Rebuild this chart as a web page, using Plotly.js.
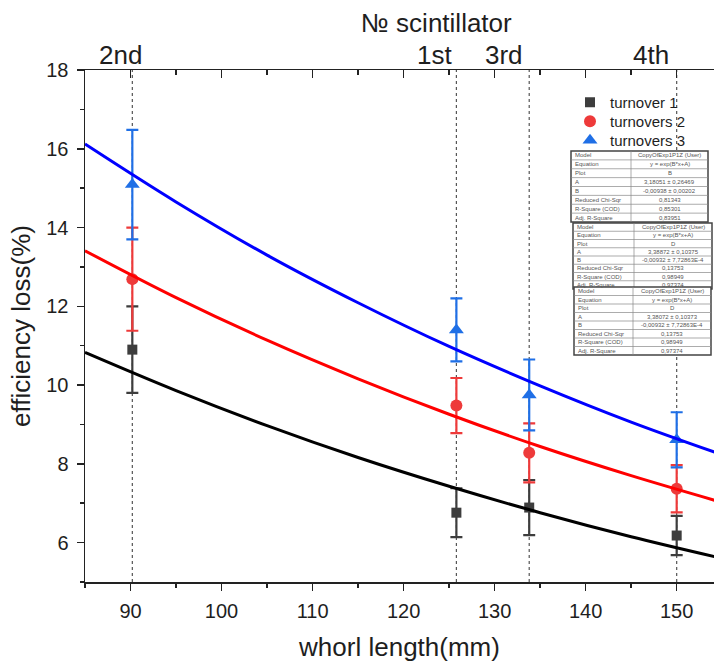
<!DOCTYPE html>
<html>
<head>
<meta charset="utf-8">
<script src="https://cdn.plot.ly/plotly-3.0.1.min.js"></script>
<style>html,body{margin:0;padding:0;background:#fff}#chart{width:714px;height:664px}</style>
</head>
<body>
<div id="chart"></div>
<script>
// ---- data ----
const scintX = [90.2, 125.8, 133.8, 150];
const scintLabels = ['2nd', '1st', '3rd', '4th'];
const pointX = [90.2, 125.8, 133.8, 150];
const turnover1 = [10.9, 6.76, 6.89, 6.18];
const turnover1Err = [1.1, 0.62, 0.7, 0.5];
const turnover2 = [12.69, 9.48, 8.28, 7.37];
const turnover2Err = [1.31, 0.7, 0.75, 0.6];
const turnover3 = [15.09, 11.4, 9.75, 8.61];
const turnover3Err = [1.39, 0.8, 0.9, 0.7];
const fitX = [85, 95, 105, 115, 125, 135, 145, 155];
const fit1 = [10.83, 9.86, 8.97, 8.16, 7.43, 6.76, 6.15, 5.60];
const fit2 = [13.41, 12.22, 11.14, 10.16, 9.26, 8.44, 7.70, 7.02];
const fit3 = [16.12, 14.65, 13.30, 12.09, 10.98, 9.98, 9.06, 8.23];
const seriesNames = ['turnover 1', 'turnovers 2', 'turnovers 3'];

const tableLeft = ['Model', 'Equation', 'Plot', 'A', 'B', 'Reduced Chi-Sqr', 'R-Square (COD)', 'Adj. R-Square'];
const table1Right = ['CopyOfExp1P1Z (User)', 'y = exp(B*x+A)', 'B', '3,18051 ± 0,26469', '-0,00938 ± 0,00202', '0,81343', '0,85301', '0,83951'];
const table2Right = ['CopyOfExp1P1Z (User)', 'y = exp(B*x+A)', 'D', '3,38872 ± 0,10375', '-0,00932 ± 7,72863E-4', '0,13753', '0,98949', '0,97374'];
const table3Right = ['CopyOfExp1P1Z (User)', 'y = exp(B*x+A)', 'D', '3,38072 ± 0,10373', '-0,00932 ± 7,72863E-4', '0,13753', '0,98949', '0,97374'];

// ---- layout geometry ----
const W = 714, H = 664, M = {l: 85, r: 0, t: 70, b: 82};
const pw = W - M.l - M.r, ph = H - M.t - M.b;
const px = x => (x - M.l) / pw;
const py = y => (H - M.b - y) / ph;
const topLabelShift = [-12, -22, -25, -26];
const legendRowTops = [86, 105, 124];

const colBlack = '#3d3d3d', colRed = '#ee3a3a', colBlue = '#1f6fe6';
const font = 'Liberation Sans, Arial, sans-serif';
const ink = '#1e1e1e';

function pts(name, y, err, color, symbol, size, legendId) {
  return {
    x: pointX, y: y, name: name, type: 'scatter', mode: 'markers', legend: legendId,
    marker: {color: color, symbol: symbol, size: size},
    error_y: {type: 'data', array: err, visible: true, color: color, thickness: 2.2, width: 6},
    cliponaxis: false
  };
}
function fit(y, color) {
  return {x: fitX, y: y, type: 'scatter', mode: 'lines', line: {color: color, width: 3, shape: 'spline'}, showlegend: false, hoverinfo: 'skip'};
}

const traces = [
  pts(seriesNames[0], turnover1, turnover1Err, colBlack, 'square', 10, 'legend'),
  pts(seriesNames[1], turnover2, turnover2Err, colRed, 'circle', 12, 'legend2'),
  pts(seriesNames[2], turnover3, turnover3Err, colBlue, 'triangle-up', 13, 'legend3'),
  fit(fit1, '#000000'),
  fit(fit2, '#ff0000'),
  fit(fit3, '#0000ff'),
  {x: [], y: [], xaxis: 'x2', yaxis: 'y', type: 'scatter', showlegend: false}
];

const shapes = scintX.map(x => ({
  type: 'line', xref: 'x', yref: 'paper', x0: x, x1: x, y0: 0, y1: 1,
  line: {color: '#555', width: 1.2, dash: '3px,3px'}, layer: 'below'
}));
const annotations = [{
  text: '№ scintillator', xref: 'paper', yref: 'paper', x: px(436), y: py(23),
  showarrow: false, font: {family: font, size: 26, color: ink}, xanchor: 'center', yanchor: 'middle'
}];
scintX.forEach((x, i) => annotations.push({
  text: scintLabels[i], xref: 'x', yref: 'paper', x: x, y: py(55), xshift: topLabelShift[i],
  showarrow: false, font: {family: font, size: 26, color: ink}, xanchor: 'center', yanchor: 'middle'
}));

function addTable(x0, x1, xd, y0, y1, rightTexts) {
  shapes.push({type: 'rect', xref: 'paper', yref: 'paper', x0: px(x0), x1: px(x1), y0: py(y0), y1: py(y1),
    fillcolor: '#fff', line: {color: '#444', width: 1.5}, layer: 'above'});
  const n = tableLeft.length, rh = (y1 - y0) / n;
  for (let i = 1; i < n; i++) {
    shapes.push({type: 'line', xref: 'paper', yref: 'paper', x0: px(x0), x1: px(x1), y0: py(y0 + i * rh), y1: py(y0 + i * rh),
      line: {color: '#888', width: 0.7}, layer: 'above'});
  }
  shapes.push({type: 'line', xref: 'paper', yref: 'paper', x0: px(xd), x1: px(xd), y0: py(y0), y1: py(y1),
    line: {color: '#888', width: 0.7}, layer: 'above'});
  for (let i = 0; i < n; i++) {
    const yc = py(y0 + (i + 0.5) * rh);
    annotations.push({text: tableLeft[i], xref: 'paper', yref: 'paper', x: px(x0 + 2), y: yc, xanchor: 'left', yanchor: 'middle',
      showarrow: false, font: {family: font, size: 6, color: '#555'}});
    annotations.push({text: rightTexts[i], xref: 'paper', yref: 'paper', x: px((xd + x1) / 2), y: yc, xanchor: 'center', yanchor: 'middle',
      showarrow: false, font: {family: font, size: 6, color: '#555'}});
  }
}
addTable(571, 708, 631, 151, 222, table1Right);
addTable(573, 712, 634, 223, 289, table2Right);
addTable(574, 711, 633, 287, 355, table3Right);

function legendAt(top) {
  return {x: px(570), y: py(top), xanchor: 'left', yanchor: 'top', bgcolor: 'rgba(0,0,0,0)',
    font: {family: font, size: 15, color: ink}, itemwidth: 30, tracegroupgap: 0};
}

const xRange = [85, 154.1];
const layout = {
  width: W, height: H, margin: M, paper_bgcolor: '#fff', plot_bgcolor: '#fff',
  showlegend: true,
  legend: legendAt(legendRowTops[0]),
  legend2: legendAt(legendRowTops[1]),
  legend3: legendAt(legendRowTops[2]),
  xaxis: {
    range: xRange, showgrid: false, zeroline: false, showline: true, linecolor: '#222', linewidth: 1.5,
    ticks: 'outside', ticklen: 7, tickwidth: 1.5, tickcolor: '#222', dtick: 10, tick0: 0,
    minor: {dtick: 5, ticks: 'outside', ticklen: 4, tickwidth: 1.5, tickcolor: '#222'},
    tickfont: {family: font, size: 20, color: ink}, ticklabelstandoff: 3,
    title: {text: 'whorl length(mm)', font: {family: font, size: 26, color: ink}, standoff: 17}
  },
  xaxis2: {
    overlaying: 'x', side: 'top', range: xRange, showgrid: false, zeroline: false, showline: true,
    linecolor: '#222', linewidth: 1.5,
    ticks: 'inside', ticklen: 8, tickwidth: 1.5, tickcolor: '#222', dtick: 10, tick0: 0, showticklabels: false,
    minor: {dtick: 5, ticks: 'inside', ticklen: 5, tickwidth: 1.5, tickcolor: '#222'}
  },
  yaxis: {
    range: [5, 18], showgrid: false, zeroline: false, showline: true, linecolor: '#222', linewidth: 1.5,
    ticks: 'outside', ticklen: 7, tickwidth: 1.5, tickcolor: '#222', dtick: 2, tick0: 0,
    minor: {dtick: 1, ticks: 'outside', ticklen: 4, tickwidth: 1.5, tickcolor: '#222'},
    tickfont: {family: font, size: 20, color: ink}, ticklabelstandoff: 4,
    title: {text: 'efficiency loss(%)', font: {family: font, size: 26, color: ink}, standoff: 8}
  },
  shapes: shapes,
  annotations: annotations
};

Plotly.newPlot('chart', traces, layout, {displayModeBar: false, staticPlot: true});
</script>
</body>
</html>
